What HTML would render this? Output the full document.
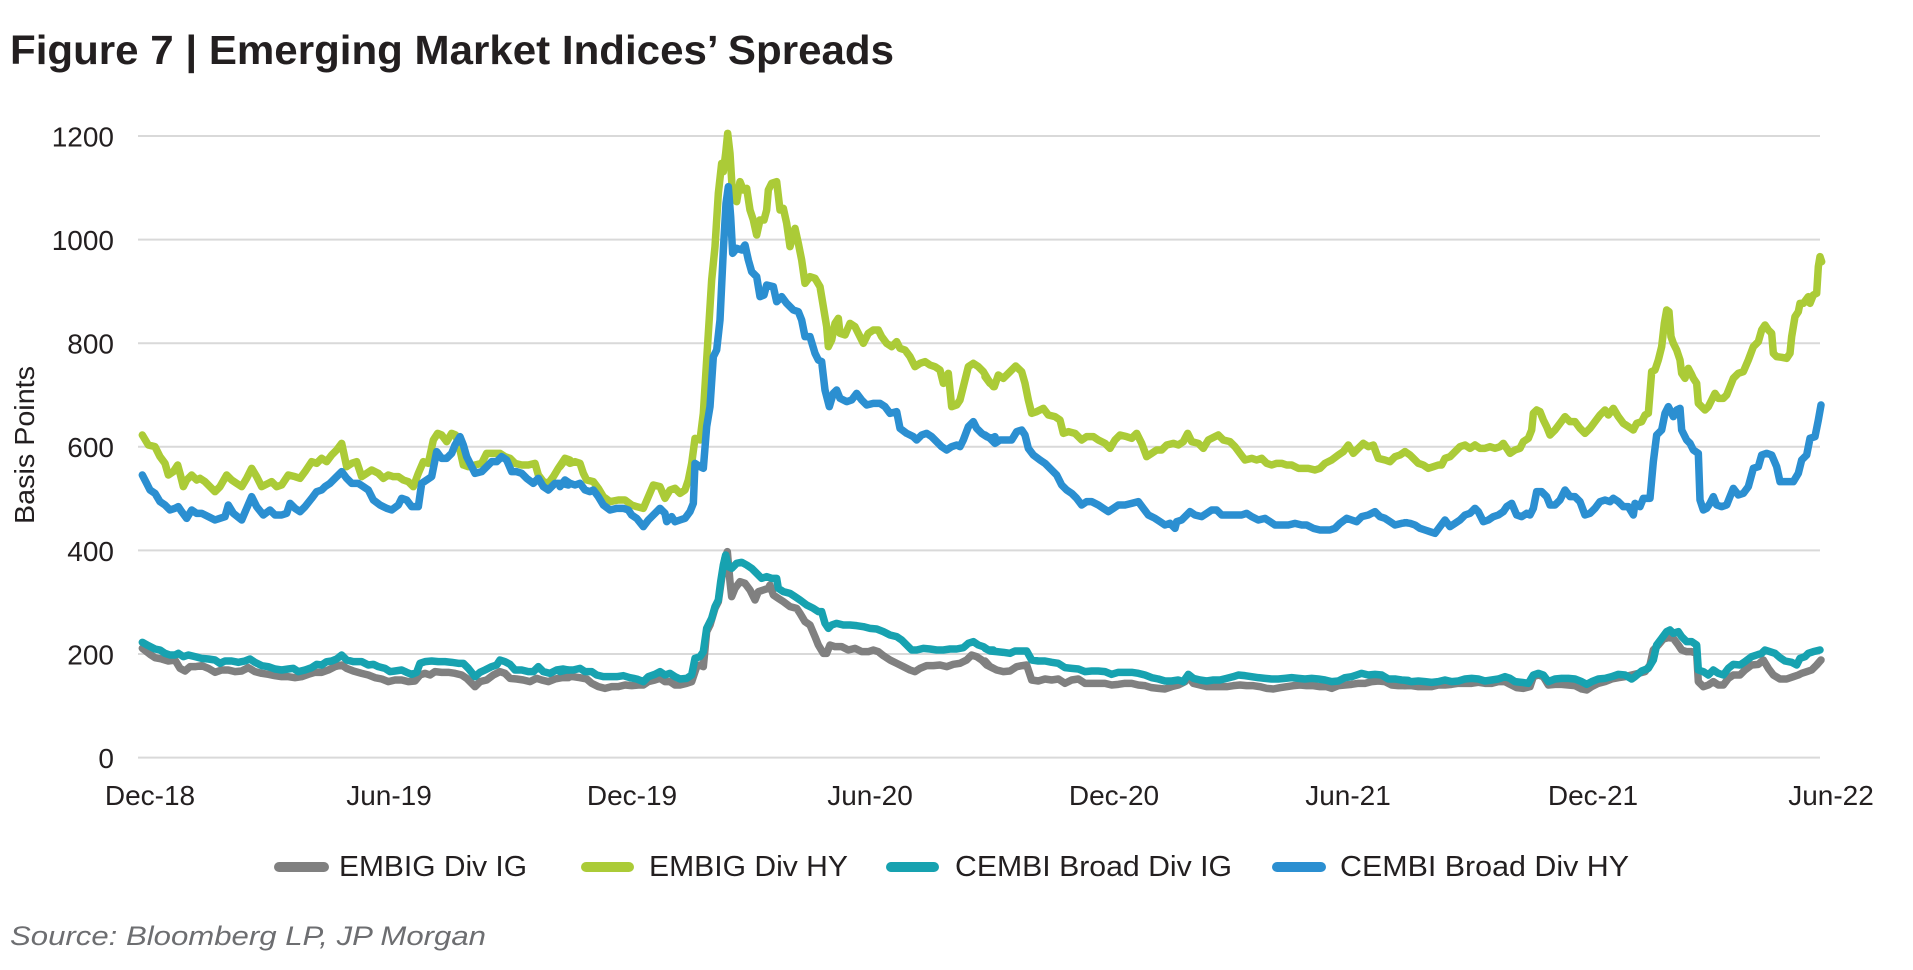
<!DOCTYPE html>
<html>
<head>
<meta charset="utf-8">
<style>
html,body{margin:0;padding:0;background:#fff;}
body{width:1913px;height:970px;overflow:hidden;}
svg{display:block;}
text{font-family:"Liberation Sans",sans-serif;}
.l{fill:none;stroke-linejoin:round;stroke-linecap:round;}
</style>
</head>
<body>
<svg width="1913" height="970" viewBox="0 0 1913 970" xmlns="http://www.w3.org/2000/svg">
<rect width="1913" height="970" fill="#fff"/>
<text x="10" y="64" font-size="41" font-weight="bold" fill="#231f20" textLength="884" lengthAdjust="spacingAndGlyphs">Figure 7 | Emerging Market Indices’ Spreads</text>

<g stroke="#d9d9d9" stroke-width="2">
<line x1="138" y1="136" x2="1820" y2="136"/>
<line x1="138" y1="239.6" x2="1820" y2="239.6"/>
<line x1="138" y1="343.2" x2="1820" y2="343.2"/>
<line x1="138" y1="446.8" x2="1820" y2="446.8"/>
<line x1="138" y1="550.4" x2="1820" y2="550.4"/>
<line x1="138" y1="654" x2="1820" y2="654"/>
<line x1="138" y1="757.6" x2="1820" y2="757.6"/>
</g>

<g font-size="28" fill="#231f20" text-anchor="end">
<text x="114" y="146.5">1200</text>
<text x="114" y="250">1000</text>
<text x="114" y="353.5">800</text>
<text x="114" y="457">600</text>
<text x="114" y="561">400</text>
<text x="114" y="664.5">200</text>
<text x="114" y="768">0</text>
</g>
<text transform="translate(34,445) rotate(-90)" font-size="28" fill="#231f20" text-anchor="middle" textLength="158" lengthAdjust="spacingAndGlyphs">Basis Points</text>

<g font-size="28" fill="#231f20" text-anchor="middle">
<text x="150" y="805">Dec-18</text>
<text x="389" y="805">Jun-19</text>
<text x="632" y="805">Dec-19</text>
<text x="870" y="805">Jun-20</text>
<text x="1114" y="805">Dec-20</text>
<text x="1348" y="805">Jun-21</text>
<text x="1593" y="805">Dec-21</text>
<text x="1831" y="805">Jun-22</text>
</g>

<!-- EMBIG Div IG (gray) -->
<g stroke="#808080">
<g transform="translate(135,535) scale(0.333333)"><polyline class="l" vector-effect="non-scaling-stroke" stroke-width="7.5" points="22,340 45,358 60,368 80,372 100,378 120,375 135,400 150,408 165,395 180,395 200,392 220,400 240,412 260,405 280,405 300,410 320,408 340,398 360,410 380,415 400,418 420,422 440,425 460,425 480,428 500,425 520,418 540,412 560,412 580,405 600,395 620,390 635,400 655,408 680,415 700,420 720,428 740,432 760,440 780,435 800,435 820,440 840,438 855,420 870,415 885,420 900,410 920,412 940,412 960,415 980,420 995,430 1010,445 1020,455 1035,440 1055,435 1075,420 1095,410 1110,415 1125,430 1145,432 1165,435 1185,440 1205,430 1220,435 1240,440 1260,432 1280,428 1300,428"/></g>
<g transform="translate(560,535) scale(0.333333)"><polyline class="l" vector-effect="non-scaling-stroke" stroke-width="7.5" points="0,428 20,425 40,425 60,428 80,432 95,445 115,455 135,460 155,455 175,455 195,450 215,452 235,450 250,450 265,440 285,435 300,430 315,440 330,440 345,450 360,450 380,445 395,440 410,395 420,390 430,395 440,290 450,270 465,220 475,200 485,130 495,70 502,50 510,140 515,185 525,160 540,140 555,145 570,165 585,195 595,170 610,165 625,160 630,150 640,180 655,190 670,200 690,215 710,220 720,235 735,260 750,270 765,305 775,330 790,355 800,355 810,330 825,335 845,335 865,345 885,340 905,350 925,350 940,345 955,350 970,362 990,375 1010,385 1030,395 1050,405 1065,410 1080,400 1100,392 1120,392 1140,390 1160,395 1180,388 1200,385 1220,375 1235,360 1250,365 1265,375 1280,390 1300,400"/></g>
<g transform="translate(985,535) scale(0.333333)"><polyline class="l" vector-effect="non-scaling-stroke" stroke-width="7.5" points="0,378 15,395 35,405 55,410 75,408 95,395 110,392 125,390 140,435 160,438 180,432 200,435 220,432 240,445 260,435 280,432 300,445 320,445 340,445 360,445 380,450 400,448 420,445 440,445 460,450 480,452 500,458 520,460 540,462 560,455 580,450 600,440 610,425 625,445 645,450 665,455 685,455 705,455 725,455 745,452 765,450 785,452 805,452 825,455 845,460 865,462 885,458 905,455 925,452 945,450 965,452 985,452 1005,455 1025,455 1040,460 1060,452 1080,450 1100,448 1120,445 1140,445 1160,440 1180,438 1200,440 1220,450 1240,452 1260,452"/></g>
<g transform="translate(1405,535) scale(0.333333)"><polyline class="l" vector-effect="non-scaling-stroke" stroke-width="7.5" points="0,452 20,452 40,455 60,455 80,455 100,450 120,450 140,448 160,445 180,445 200,445 220,442 240,445 260,445 280,440 300,440 315,448 335,458 355,460 375,455 385,425 400,420 415,425 430,450 450,448 470,448 490,450 510,452 530,462 545,465 560,455 580,445 600,440 620,432 640,428 660,425 680,420 700,415 720,410 735,390 745,345 760,330 775,312 790,308 805,310 820,330 830,345 845,350 860,350 875,355 880,440 895,455 910,450 925,440 940,450 955,450 970,430 985,420 1005,420 1020,405 1040,390 1060,388 1075,375 1090,400 1105,420 1125,432 1145,432 1165,425 1180,420 1190,415 1205,410 1220,405 1235,390 1248,375"/></g>
</g>

<!-- EMBIG Div HY (green) -->
<g stroke="#abcb37">
<g transform="translate(135,120) scale(0.333333)"><polyline class="l" vector-effect="non-scaling-stroke" stroke-width="7.5" points="22,945 40,975 60,980 75,1010 90,1030 100,1065 115,1055 128,1035 135,1060 145,1100 155,1080 170,1065 185,1080 195,1075 210,1085 225,1100 240,1115 255,1100 275,1065 290,1080 305,1090 320,1100 335,1075 350,1045 365,1070 380,1100 400,1090 410,1085 425,1100 440,1095 460,1065 480,1070 495,1075 510,1055 530,1025 545,1030 560,1015 575,1025 590,1005 605,990 620,970 635,1040 650,1030 665,1025 680,1070 695,1060 710,1050 730,1060 745,1075 760,1065 775,1070 790,1070 805,1080 820,1085 835,1100 850,1060 865,1025 880,1030 895,960 908,940 920,945 935,965 950,940 962,945 975,990 985,1035 1000,1040 1020,1035 1040,1030 1055,1000 1075,1000 1095,1000 1110,1010 1125,1015 1140,1030 1160,1035 1180,1035 1200,1030 1210,1065 1225,1085 1240,1090 1255,1070 1270,1045 1290,1015 1305,1020"/></g>
<g transform="translate(560,120) scale(0.333333)"><polyline class="l" vector-effect="non-scaling-stroke" stroke-width="7.5" points="0,1040 15,1020 30,1030 45,1025 60,1030 70,1060 80,1080 100,1085 115,1105 130,1130 150,1145 175,1140 195,1140 215,1155 230,1160 250,1165 265,1130 280,1095 300,1100 315,1135 330,1110 345,1105 360,1120 375,1110 385,1080 395,1030 405,955 420,960 430,880 440,720 455,480 465,380 475,220 485,130 490,155 497,100 503,40 510,100 518,230 530,245 540,185 550,210 560,205 570,270 580,300 590,345 600,300 612,300 620,270 625,210 635,190 650,185 660,270 670,265 680,310 690,380 705,325 715,370 725,420 735,490 750,470 765,475 780,500 790,560 800,620 805,680 815,660 825,610 835,595 840,640 855,645 870,610 885,620 895,640 910,670 925,640 940,630 955,630 965,650 980,670 995,680 1010,665 1020,685 1035,690 1050,710 1065,740 1080,730 1095,725 1110,735 1125,740 1140,750 1150,790 1165,760 1175,860 1190,855 1200,840 1210,800 1225,740 1240,730 1255,740 1270,755 1285,780 1300,800"/></g>
<g transform="translate(985,120) scale(0.333333)"><polyline class="l" vector-effect="non-scaling-stroke" stroke-width="7.5" points="0,770 15,790 28,800 40,765 55,775 75,755 92,738 110,755 120,790 130,840 140,880 155,875 175,865 190,885 210,890 225,900 235,940 250,935 270,940 290,960 305,950 325,950 340,960 360,970 375,985 390,960 405,945 425,950 440,955 455,940 470,970 485,1010 500,1000 515,990 530,990 545,975 565,970 580,975 595,965 608,940 620,965 640,970 655,985 670,960 690,950 700,945 715,960 735,965 750,980 765,1000 780,1020 800,1015 815,1020 830,1015 845,1030 860,1035 875,1030 890,1030 905,1035 920,1035 940,1045 955,1045 970,1045 990,1050 1005,1045 1020,1030 1040,1020 1060,1005 1075,995 1090,975 1105,1000 1120,985 1135,970 1150,980 1165,975 1180,1015 1200,1020 1215,1025 1230,1010 1245,1005 1260,995"/></g>
<g transform="translate(1405,120) scale(0.333333)"><polyline class="l" vector-effect="non-scaling-stroke" stroke-width="7.5" points="0,995 15,1005 25,1015 40,1030 55,1035 70,1045 85,1040 100,1035 110,1035 120,1015 135,1010 150,995 165,980 180,975 195,985 210,975 225,985 240,985 255,980 270,985 285,980 295,970 305,985 315,1000 330,990 345,985 355,965 370,955 380,930 385,880 395,870 405,875 415,900 425,920 435,945 450,930 465,910 480,890 495,905 510,905 525,925 540,940 555,925 570,905 585,885 600,870 610,885 625,865 640,890 655,910 670,920 685,930 695,910 710,905 720,885 730,880 740,755 750,750 760,720 770,680 778,610 785,570 792,575 798,650 805,670 815,690 825,720 830,760 840,775 850,745 858,760 865,775 875,790 880,850 890,860 900,870 910,860 920,840 930,820 940,835 955,835 965,825 975,800 985,775 1000,760 1015,755 1030,720 1045,680 1060,665 1070,630 1080,615 1090,630 1100,640 1105,700 1115,710 1130,712 1145,715 1155,700 1160,650 1170,590 1180,575 1185,550 1195,550 1210,530 1215,550 1225,525 1235,520 1240,440 1245,410 1250,425"/></g>
</g>

<!-- CEMBI Broad Div IG (teal) -->
<g stroke="#17a2b0">
<g transform="translate(135,535) scale(0.333333)"><polyline class="l" vector-effect="non-scaling-stroke" stroke-width="7.5" points="22,322 40,332 60,342 75,345 90,355 105,360 120,360 130,355 145,365 160,360 180,365 200,370 220,372 240,375 255,385 270,378 290,378 310,382 330,378 345,372 360,382 380,392 400,395 420,402 440,405 460,402 475,400 490,410 510,405 530,398 545,388 560,390 575,380 590,378 605,372 620,360 635,375 655,380 680,380 700,390 715,388 730,395 750,400 765,410 780,408 800,405 815,412 830,418 845,412 855,385 870,380 890,378 910,380 930,380 950,382 970,385 985,385 1000,400 1020,425 1035,412 1050,405 1070,395 1085,390 1095,375 1110,380 1125,388 1140,405 1160,405 1180,410 1195,410 1210,395 1225,410 1245,415 1265,405 1285,402 1300,405"/></g>
<g transform="translate(560,535) scale(0.333333)"><polyline class="l" vector-effect="non-scaling-stroke" stroke-width="7.5" points="0,410 20,405 40,405 60,400 75,410 95,410 110,420 130,425 150,425 170,425 190,422 210,428 230,432 250,440 265,425 285,418 300,410 315,420 330,415 345,425 360,432 380,430 395,420 405,370 420,365 430,350 440,280 455,250 465,215 475,195 482,140 490,90 497,60 505,95 515,100 530,85 545,82 560,90 575,100 590,115 605,130 620,125 635,130 650,130 655,160 670,170 690,175 705,185 720,195 740,210 760,220 775,230 785,230 795,265 805,280 815,270 830,265 850,270 870,270 890,272 910,275 930,280 950,282 970,290 990,300 1010,305 1025,315 1040,330 1055,345 1070,345 1090,340 1110,342 1130,345 1150,345 1170,342 1190,342 1210,338 1225,325 1240,320 1255,330 1270,335 1285,345 1300,345"/></g>
<g transform="translate(985,535) scale(0.333333)"><polyline class="l" vector-effect="non-scaling-stroke" stroke-width="7.5" points="0,340 15,348 35,350 55,352 75,355 90,348 110,348 125,348 140,375 160,378 180,378 200,382 220,385 240,398 260,400 280,402 300,410 320,408 340,408 360,410 380,418 400,412 420,412 440,412 460,415 480,420 500,428 520,432 540,438 560,438 580,435 595,440 610,418 625,430 645,435 665,438 685,435 705,435 725,430 745,425 760,420 780,422 800,425 820,428 840,430 860,432 880,432 900,430 920,428 940,430 960,432 980,430 1000,432 1020,435 1040,440 1060,438 1080,428 1100,425 1115,420 1130,415 1150,420 1170,418 1190,420 1210,432 1230,432 1250,435 1270,436"/></g>
<g transform="translate(1405,535) scale(0.333333)"><polyline class="l" vector-effect="non-scaling-stroke" stroke-width="7.5" points="0,436 20,440 40,438 60,440 80,442 100,440 120,435 140,440 160,438 180,432 200,430 220,432 240,438 260,435 280,432 300,425 315,430 330,440 350,442 370,445 385,420 400,415 415,420 430,440 450,432 470,430 490,430 510,432 530,440 545,448 560,440 580,432 600,430 620,425 640,418 660,420 680,432 690,425 710,408 730,400 745,375 755,330 770,310 785,290 795,285 805,295 820,290 830,305 845,320 860,320 875,330 880,405 895,410 910,420 925,405 940,415 955,420 970,400 985,388 1005,390 1020,380 1040,365 1055,360 1070,355 1080,345 1095,350 1110,355 1125,368 1140,378 1160,382 1175,390 1185,370 1200,365 1210,355 1225,350 1245,345"/></g>
</g>

<!-- CEMBI Broad Div HY (blue) -->
<g stroke="#2b8fd1">
<g transform="translate(135,120) scale(0.333333)"><polyline class="l" vector-effect="non-scaling-stroke" stroke-width="7.5" points="22,1065 35,1090 45,1110 60,1120 75,1145 90,1155 105,1170 120,1165 130,1160 140,1175 155,1195 170,1170 185,1180 200,1180 220,1190 240,1200 255,1195 270,1190 280,1155 295,1180 320,1200 335,1165 350,1130 365,1160 385,1185 405,1170 420,1185 440,1185 455,1180 465,1150 480,1165 495,1175 510,1160 530,1135 545,1115 560,1110 570,1100 585,1090 600,1075 620,1055 635,1075 650,1090 670,1090 685,1100 700,1110 715,1140 735,1155 755,1165 770,1170 790,1155 800,1135 815,1140 830,1160 850,1160 860,1090 875,1080 890,1070 905,995 920,1015 935,1015 950,1000 960,975 975,950 985,975 995,1010 1010,1040 1020,1060 1040,1055 1055,1040 1070,1025 1085,1025 1100,1010 1115,1020 1130,1055 1145,1055 1160,1060 1175,1075 1195,1090 1210,1075 1225,1100 1240,1110 1260,1090 1280,1090 1300,1095"/></g>
<g transform="translate(560,120) scale(0.333333)"><polyline class="l" vector-effect="non-scaling-stroke" stroke-width="7.5" points="0,1100 15,1080 30,1090 45,1095 60,1090 75,1110 90,1115 100,1110 115,1130 130,1155 150,1170 170,1165 190,1165 205,1170 215,1185 230,1195 250,1220 265,1200 280,1185 300,1165 315,1180 320,1205 335,1190 345,1205 360,1200 375,1195 390,1175 400,1150 405,1030 420,1040 430,1045 440,920 450,860 460,710 470,690 480,600 490,390 498,250 505,200 512,290 518,400 530,385 545,390 555,375 565,420 575,455 590,470 600,530 612,525 620,495 640,500 650,545 665,530 680,550 700,570 715,575 725,600 735,650 750,650 765,700 775,720 785,725 795,810 808,860 820,820 830,810 840,835 860,845 875,840 890,820 905,840 920,855 940,850 960,850 975,860 990,880 1010,875 1020,925 1040,940 1060,950 1070,960 1085,945 1100,940 1115,950 1130,965 1145,980 1160,990 1175,980 1190,975 1200,980 1210,960 1225,920 1240,905 1250,925 1265,940 1280,950 1295,955 1305,950"/></g>
<g transform="translate(985,120) scale(0.333333)"><polyline class="l" vector-effect="non-scaling-stroke" stroke-width="7.5" points="0,945 15,955 30,970 45,960 65,960 80,960 95,935 110,930 120,945 130,985 145,1005 165,1020 180,1030 200,1050 215,1065 230,1095 245,1110 260,1120 275,1135 290,1155 305,1145 320,1145 340,1155 355,1165 370,1175 385,1165 400,1155 420,1155 440,1150 460,1145 475,1165 490,1185 510,1195 525,1205 540,1215 555,1210 570,1225 575,1205 590,1200 605,1185 615,1175 630,1185 650,1190 665,1180 680,1170 695,1170 710,1185 730,1185 750,1185 770,1185 785,1180 800,1190 820,1200 840,1195 855,1205 870,1215 890,1215 910,1215 930,1210 950,1215 965,1215 985,1225 1005,1230 1020,1230 1035,1230 1050,1225 1065,1210 1085,1195 1100,1200 1115,1205 1130,1190 1150,1185 1170,1175 1185,1190 1200,1195 1215,1205 1230,1215 1250,1210 1265,1208"/></g>
<g transform="translate(1405,120) scale(0.333333)"><polyline class="l" vector-effect="non-scaling-stroke" stroke-width="7.5" points="0,1208 15,1210 30,1215 45,1225 60,1230 75,1235 90,1240 105,1220 120,1200 135,1220 150,1210 165,1200 180,1185 195,1180 210,1165 220,1175 235,1205 250,1200 265,1190 280,1185 295,1175 305,1160 320,1150 335,1185 350,1190 365,1180 375,1185 385,1165 395,1115 410,1115 425,1130 435,1155 450,1155 465,1140 480,1110 495,1130 510,1130 525,1145 540,1185 555,1180 570,1165 585,1145 600,1140 615,1145 625,1135 640,1145 655,1160 670,1160 685,1185 690,1150 705,1160 715,1135 735,1135 745,1025 755,945 770,930 780,880 790,860 805,890 815,870 825,865 830,930 845,960 855,970 865,990 880,1000 885,1140 895,1170 905,1165 915,1150 925,1130 935,1155 950,1160 965,1155 975,1130 985,1105 1000,1125 1015,1120 1030,1100 1045,1045 1060,1040 1070,1005 1085,1000 1100,1005 1115,1040 1125,1085 1145,1085 1165,1085 1180,1060 1190,1020 1205,1005 1215,955 1230,950 1240,900 1248,855"/></g>
</g>

<!-- Legend -->
<g stroke-width="10" stroke-linecap="round">
<line x1="279" y1="867" x2="324" y2="867" stroke="#808080"/>
<line x1="586" y1="867" x2="629" y2="867" stroke="#abcb37"/>
<line x1="891" y1="867" x2="934" y2="867" stroke="#17a2b0"/>
<line x1="1277" y1="867" x2="1321" y2="867" stroke="#2b8fd1"/>
</g>
<g font-size="29" fill="#231f20">
<text x="339" y="876" textLength="188" lengthAdjust="spacingAndGlyphs">EMBIG Div IG</text>
<text x="649" y="876" textLength="199" lengthAdjust="spacingAndGlyphs">EMBIG Div HY</text>
<text x="955" y="876" textLength="277" lengthAdjust="spacingAndGlyphs">CEMBI Broad Div IG</text>
<text x="1340" y="876" textLength="289" lengthAdjust="spacingAndGlyphs">CEMBI Broad Div HY</text>
</g>

<text x="10" y="945" font-size="27" font-style="italic" fill="#6d6e71" textLength="476" lengthAdjust="spacingAndGlyphs">Source: Bloomberg LP, JP Morgan</text>
</svg>
</body>
</html>
